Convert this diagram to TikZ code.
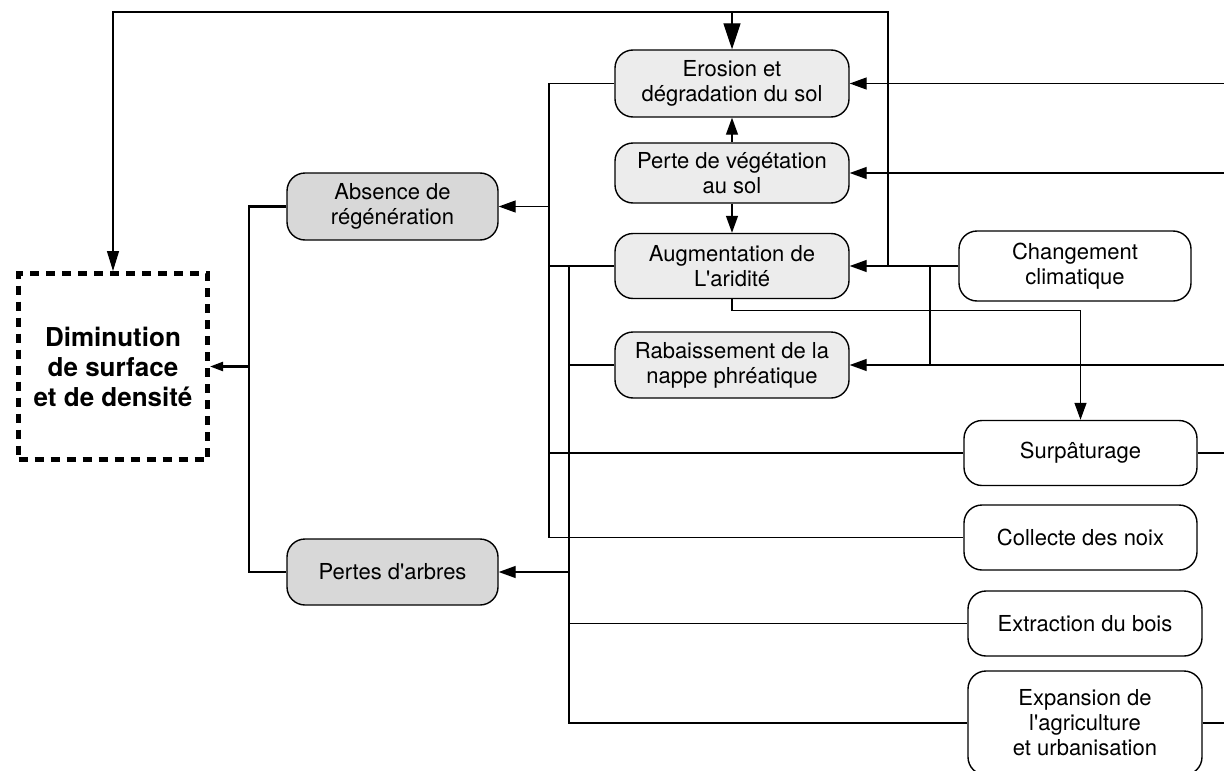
\documentclass[tikz,border=0pt]{standalone}
\usepackage{fontspec}
\setmainfont{TeX Gyre Heros}[Ligatures=TeXOff]
\usetikzlibrary{arrows.meta,calc}
\definecolor{darkfill}{HTML}{D8D8D8}
\definecolor{lightfill}{HTML}{ECECEC}
\begin{document}
\begin{tikzpicture}[x=1pt,y=-1pt,
  box/.style={draw=black, line width=1.4pt, rounded corners=18pt, inner sep=0pt,
    align=center, font=\fontsize{22}{25}\selectfont, text=black},
  darkbox/.style={box, fill=darkfill},
  lightbox/.style={box, fill=lightfill, minimum width=234},
  whitebox/.style={box, fill=white},
  dashbox/.style={draw=black, line width=5pt, dash pattern=on 9pt off 7pt,
    inner sep=0pt, align=center, minimum width=189, minimum height=186,
    font=\fontsize{26}{30}\selectfont\bfseries},
  conn/.style={draw=black, line width=1.3pt},
  thickconn/.style={draw=black, line width=2.2pt},
  arr/.style={conn, -{Triangle[length=17pt,width=12pt]}},
  bigarr/.style={conn, -{Triangle[length=26pt,width=17pt]}},
  smallarr/.style={thickconn, -{Triangle[length=13pt,width=9pt]}},
  downarr/.style={conn, -{Triangle[length=20pt,width=12pt]}}
]
\useasboundingbox (0,0) rectangle (1224,771);

% nodes
\node[dashbox] (dim) at (113,366.5) {Diminution\\de surface\\et de densité};
\node[darkbox, minimum width=211, minimum height=67] (abs) at (392.5,206.5) {Absence de\\régénération};
\node[darkbox, minimum width=211, minimum height=66] (pta) at (392.5,572) {Pertes d'arbres};
\node[lightbox, minimum height=67] (ero) at (732,83.5) {Erosion et\\dégradation du sol};
\node[lightbox, minimum height=60] (veg) at (732,173) {Perte de végétation\\au sol};
\node[lightbox, minimum height=65] (ari) at (732,266) {Augmentation de\\L'aridité};
\node[lightbox, minimum height=66] (rab) at (732,365) {Rabaissement de la\\nappe phréatique};
\node[whitebox, minimum width=232, minimum height=70] (cc) at (1075,266) {Changement\\climatique};
\node[whitebox, minimum width=233, minimum height=65] (sur) at (1080.5,453) {Surpâturage};
\node[whitebox, minimum width=233, minimum height=65] (col) at (1080.5,537.5) {Collecte des noix};
\node[whitebox, minimum width=234, minimum height=65] (ext) at (1085,623.5) {Extraction du bois};
\node[whitebox, minimum width=234, minimum height=104] (exp) at (1085,723) {Expansion de\\l'agriculture\\et urbanisation};

% helper coordinates
\coordinate (edge) at (1224,0);
\coordinate (top) at (0,12);
\coordinate (bA) at (549,0);
\coordinate (bB) at (569,0);
\coordinate (bC) at (249,0);
\coordinate (j1) at (888,266);
\coordinate (j2) at (930,266);

% right-side inputs
\draw[arr] (ero.east -| edge) -- (ero.east);
\draw[arr] (veg.east -| edge) -- (veg.east);
\draw[arr] (rab.east -| edge) -- (rab.east);
\draw[conn] (sur.east) -- (sur.east -| edge);
\draw[conn] (exp.east) -- (exp.east -| edge);

% changement climatique
\draw[arr] (cc.west) -- (ari.east);
\draw[conn] (j2) -- (j2 |- rab.east);

% top loop
\draw[downarr] (j1) |- (dim.north |- top) -- (dim.north);
\draw[bigarr] (ero.north |- top) -- (ero.north);

% vertical chain
\draw[arr] (veg.north) -- (ero.south);
\draw[arr] (veg.south) -- (ari.north);

% aridite -> surpaturage
\draw[arr] (ari.south) -- ++(0,11) -| (sur.north);

% bus A
\draw[conn] (ero.west) -| (col.west -| bA) -- (col.west);
\draw[arr] (abs.east -| bA) -- (abs.east);
\draw[conn] (ari.west) -- (ari.west -| bA);
\draw[conn] (sur.west) -- (sur.west -| bA);

% bus B
\draw[conn] (ari.west -| bB) |- (exp.west);
\draw[conn] (rab.west) -- (rab.west -| bB);
\draw[arr] (pta.east -| bB) -- (pta.east);
\draw[conn] (ext.west) -- (ext.west -| bB);

% to the final box
\draw[thickconn] (abs.west) -| (pta.west -| bC) -- (pta.west);
\draw[smallarr] (dim.east -| bC) -- (dim.east);
\end{tikzpicture}
\end{document}
